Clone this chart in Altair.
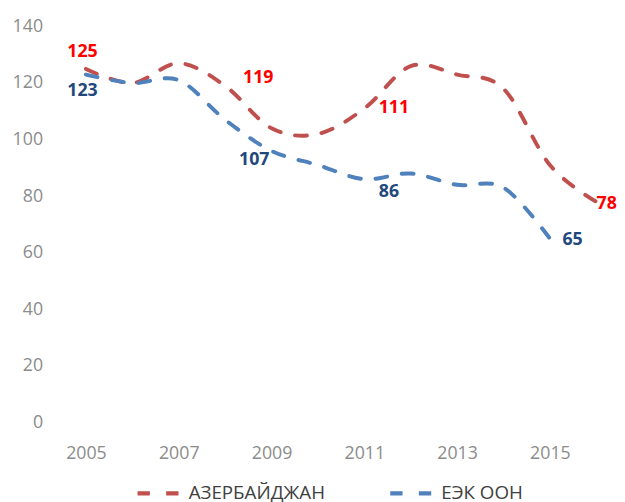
import altair as alt
import pandas as pd

years_red = [2005, 2006, 2007, 2008, 2009, 2010, 2011, 2012, 2013, 2014, 2015, 2016]
red_vals = [125, 120, 127, 119, 104, 102, 111, 126, 123, 118, 91, 78]
years_blue = [2005, 2006, 2007, 2008, 2009, 2010, 2011, 2012, 2013, 2014, 2015]
blue_vals = [123, 120, 121, 107, 96, 91, 86, 88, 84, 83, 65]
series_names = ["АЗЕРБАЙДЖАН", "ЕЭК ООН"]
line_colors = ["#C0504D", "#4F81BD"]
label_colors = {"АЗЕРБАЙДЖАН": "#FF0000", "ЕЭК ООН": "#1F497D"}
x_ticks = [2005, 2007, 2009, 2011, 2013, 2015]
y_ticks = [0, 20, 40, 60, 80, 100, 120, 140]

# labelled points: (series, year, dx, dy)
labelled = [
    ("АЗЕРБАЙДЖАН", 2005, -3.5, -17),
    ("ЕЭК ООН", 2005, -3.5, 17),
    ("АЗЕРБАЙДЖАН", 2008, 33.5, -8),
    ("ЕЭК ООН", 2008, 29.5, 41),
    ("АЗЕРБАЙДЖАН", 2011, 30, 0),
    ("ЕЭК ООН", 2011, 25, 13),
    ("АЗЕРБАЙДЖАН", 2016, 10.5, 2.5),
    ("ЕЭК ООН", 2015, 23, 2),
]

df = pd.concat([
    pd.DataFrame({"year": years_red, "value": red_vals, "series": series_names[0]}),
    pd.DataFrame({"year": years_blue, "value": blue_vals, "series": series_names[1]}),
], ignore_index=True)

FONT = "Open Sans"
x_dom = [2005 - 32 / 47, 2005 - 32 / 47 + 562 / 47]

x_enc = alt.X("year:Q",
              scale=alt.Scale(domain=x_dom, nice=False, zero=False),
              axis=alt.Axis(values=x_ticks, format="d", title=None, grid=False,
                            domain=False, ticks=False, labelPadding=23,
                            labelFont=FONT, labelFontSize=18, labelColor="#8c8c8c"))
y_enc = alt.Y("value:Q",
              scale=alt.Scale(domain=[0, 140], nice=False),
              axis=alt.Axis(values=y_ticks, title=None, grid=False, domain=False,
                            ticks=False, labelPadding=12,
                            labelFont=FONT, labelFontSize=18, labelColor="#8c8c8c"))

lines = alt.Chart(df).mark_line(
    interpolate="cardinal", strokeWidth=4, strokeDash=[12, 15], strokeCap="round"
).encode(
    x=x_enc,
    y=y_enc,
    color=alt.Color("series:N",
                    scale=alt.Scale(domain=series_names, range=line_colors),
                    sort=series_names,
                    legend=alt.Legend(title=None, orient="none", direction="horizontal",
                                      legendX=82, legendY=450, padding=0,
                                      symbolType="stroke", symbolSize=1722,
                                      symbolStrokeWidth=4.5, symbolDash=[12.5, 16.5],
                                      labelFont=FONT, labelFontSize=19,
                                      labelColor="#404040", labelOffset=8,
                                      columnPadding=56)),
    detail="series:N",
)

layers = [lines]
for s, yr, dx, dy in labelled:
    sub = df[(df.series == s) & (df.year == yr)]
    layers.append(
        alt.Chart(sub).mark_text(
            font=FONT, fontSize=18, fontWeight="bold", dx=dx, dy=dy,
            color=label_colors[s], baseline="middle", align="center"
        ).encode(x="year:Q", y="value:Q", text=alt.Text("value:Q", format="d"))
    )

chart = alt.layer(*layers).properties(
    width=562, height=401,
    autosize=alt.AutoSizeParams(type="none"),
    padding={"left": 47, "top": 15.5, "right": 8, "bottom": 77},
).configure_view(stroke=None)

chart.save("out.html", embed_options={"renderer": "svg", "actions": False})
